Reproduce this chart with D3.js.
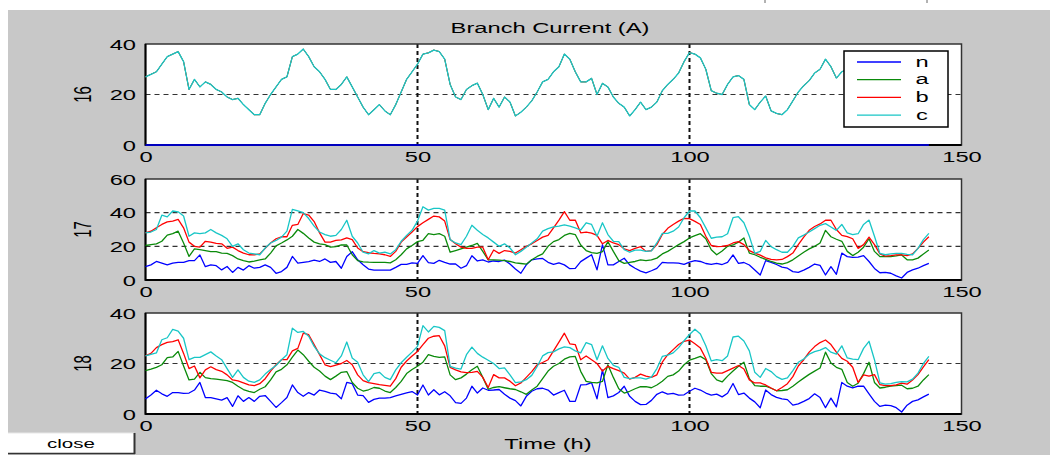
<!DOCTYPE html>
<html><head><meta charset="utf-8">
<script src="https://cdn.jsdelivr.net/npm/d3@7"></script>
<style>
body{margin:0;background:#fff}
svg{display:block}
text{font-family:"Liberation Sans",Arial,sans-serif;fill:#000}
</style>
</head><body>
<svg id="chart" width="1050" height="455"></svg>
<script>
// ---------- data ----------
const hours = d3.range(0, 145);           // time axis, 0..144 h
const xTicks = [0, 50, 100, 150];
const title = "Branch Current (A)";
const xLabel = "Time (h)";
const phaseNames = ["n", "a", "b", "c"];
const phaseColors = ["#0000ff", "#0a8a0a", "#ff0000", "#18c6c6"];
const branchLabels = ["16", "17", "18"];
const yMaxes = [40, 60, 40];
const yTicks16 = [0, 20, 40];
const yTicks17 = [0, 20, 40, 60];
const yTicks18 = [0, 20, 40];

// Branch 16: neutral current is zero, phases a/b/c coincide
const p16n = [0,0,0,0,0,0,0,0,0,0, 0,0,0,0,0,0,0,0,0,0, 0,0,0,0,0,0,0,0,0,0, 0,0,0,0,0,0,0,0,0,0,
  0,0,0,0,0,0,0,0,0,0, 0,0,0,0,0,0,0,0,0,0, 0,0,0,0,0,0,0,0,0,0, 0,0,0,0,0,0,0,0,0,0,
  0,0,0,0,0,0,0,0,0,0, 0,0,0,0,0,0,0,0,0,0, 0,0,0,0,0,0,0,0,0,0, 0,0,0,0,0,0,0,0,0,0,
  0,0,0,0,0,0,0,0,0,0, 0,0,0,0,0,0,0,0,0,0, 0,0,0,0,0];
const p16abc = [27,28,29,32,35,36,37,33,22,26, 23,25,24,22,21,19,18,18.5,16,14,
  12,12,16.5,20,23,26,27,35,36,38, 35,31,29,26,22,22,24,27,23,19,
  15,12,14,16,13.5,12,16,21,26,29, 32,36,36.5,37.6,37,34,24,19,18,22,
  23.5,24.5,20,14,18.5,15,19,17,11.5,13, 15,17.5,21,25,26,29,31,36,34,29,
  25,25,26.4,20,24.4,23,19,16.5,15,11.5, 14,17,14,15,17,21.5,24,26,28.5,33,
  36.6,36,34.5,30,21.5,20.5,20,24,27,27.5, 26,16,14,17,19.4,13.5,12.5,12,14,17.5,
  21,23.5,25.5,28.5,30,34,31,26.5,29,30, 32,30,28,27,25,26,24,22,20,21, 19,20,18,19,20];

// Branch 17
const p17n = [8,9,11,10,9,10,10.5,10.5,11.5,11.5, 14.9,7.9,9,8.5,6,8,4.5,7.5,5.9,8.5,
  7,7.5,9,7.5,4,5,7.5,14,10,10.5, 10.9,11.8,11,12.5,10.5,11,7,14,16.8,12,
  9,6.5,5.9,5.9,5.9,5.9,7.5,9.3,9.3,10.2, 9.9,14.5,10.3,9.9,11.7,10.5,9.5,9.5,7,8.5,
  14.4,11.3,11.9,10.7,11.3,11,11.8,9.5,6.5,4, 9,12,12.5,12.8,10.5,9.3,10.2,9,6.7,6.9,
  10.9,13,15,6,21,9,9,11,12.9,9, 7,5.3,4.2,5.5,6.9,10.5,10.2,10.2,10,9.3,
  10.6,11.5,11,9.8,9.3,9.9,9.2,10.5,14.9,9.9, 10.4,8.9,6,3,11.5,10.5,9.2,7.7,7,5,
  4.5,5.9,7.5,9.5,8.7,3,7.9,3.4,16,13.9, 13.5,13.6,14.5,11,6.9,4.3,4.5,4,2.5,1.2, 4.5,6,7,8.5,9.9];
const p17a = [20.5,21,21.5,23,26.7,27.5,29,22,14,18.5, 18,17.5,16.8,16.8,16,15.8,14.5,12.5,11.5,10.7,
  11.2,11.9,12.5,16,20.3,22,23.8,26,30,27.7, 25,22.5,21.5,21,19.5,19.8,20.8,20.8,15,11.5,
  10.8,10.6,10.5,10.5,10.5,10.2,12,15,18.5,20.5, 22.8,23.6,27.5,27,27.5,26,16.5,17.5,18.5,19.5,
  20.5,21.8,17,12,11.9,11.8,11.5,11,10.2,9.8, 9.4,12,14,15.5,20,22.8,24,26.5,27.7,27,
  20.8,17.5,16.3,15.8,16.8,22.8,17,11.5,9.9,10.5, 11,11.9,11.5,12,13,15.5,17,19,21,22.8,
  25,26.3,27.5,24.5,18,15,17.2,20,20.8,22.5, 25,16,15,13.5,12.3,11,10,9.5,10.3,12,
  14.3,16.5,18.5,20,22,29.5,25.7,24.2,23,17, 14.5,16.5,19.5,24.5,17,13.9,13.9,13.9,14.3,14.9, 12,11.9,13,15.5,17.8];
const p17b = [28,29,31,33,34.5,35,36,31,22.5,20, 19.5,23,22.5,21.8,21.5,18.8,19.5,17.5,16,15,
  14.9,15.5,18.8,22,24.5,25.7,25.7,32.5,33,39.5, 38.6,34.7,28,22.5,22.5,23.5,23.8,25,24,19,
  16.8,16.2,15.8,15.5,15,14,17,22.5,25.5,28.5, 31.7,34,36,38,37.5,35,24,21.5,19.5,18.8,
  18.8,19.5,19.5,12,17.8,15.8,17.5,17,16,18, 20,21.5,23.5,25.5,26.5,31,35.6,40.6,35.5,35.6,
  28,28.5,27.8,26.5,21.5,23.5,22,21,18.5,17.5, 18.8,19.8,17,17.5,21,27,30.7,33,35,36.6,
  36.5,34.8,33,26,20.5,19.8,20,20.5,22,22.8, 21,17.5,16,14.8,13.2,12.3,11.9,12.2,13.9,16,
  21,25.5,29.5,31.8,33.3,35.5,35.5,30,26.5,25.8, 24.5,18.8,21,25.5,21,15.5,14.2,14.5,14.9,14.9, 14.5,15.5,18.8,22.5,25.7];
const p17c = [28,28.5,30,38.5,37.5,41,40.5,38,26,28, 27.5,28,30,28,26.5,24.5,20,21.5,18,16,
  15.5,15,19,22,23.5,25.5,29,42,41,40, 36.5,32,28.5,27,26,26.5,30,35.5,26,22,
  16.5,15.5,17.5,16,16.5,15.5,18,23,26.5,29.5, 35,43.5,41.5,42.5,42.5,41.5,24,22,21,26,
  32.5,29.5,27,25,22.5,20,21.5,19,15,17, 19.5,22,24.5,29,30.5,31.5,32,32.7,32,31,
  29.7,34,33,26,34,27,23,22.8,18,16.5, 17.8,17.8,17,17.3,22,27.7,27.7,29,31.5,37,
  41,41,37,31,24.8,25.5,25.7,27.5,37,37.6, 34,26,15.8,17,23.5,19.8,18,16.5,16.5,20,
  25,26.7,28.5,30.5,32.5,33.5,31.5,29.5,33,28, 27,27.5,33,35.6,26,15.8,15,15.5,15.8,15.8, 15.2,15,18.8,24,27.7];

// Branch 18
const p18n = [6,7.5,9.4,8,7,8.5,8.5,8.2,8.3,9.5, 12.5,6.5,6.5,6,5.5,6.5,3,7.2,5,6.5,
  5,7,7.3,5,2.6,4.5,6.5,11.5,8.5,7, 8.5,7.5,9.5,9,8.3,8,6,12.5,12,7.5,
  7.3,4.6,5.8,6.3,6.3,6.5,7.2,7.8,8.4,8.9, 7.5,11.5,7.5,9.6,7.6,8.8,7.2,4.5,4.2,6.3,
  11,8.3,10.3,9.4,9.5,9.7,7.8,6.3,5.3,3.2, 7,9,10,10.2,9.5,7.5,8.5,9.4,5,5,
  11.5,11.6,12.4,6,17.5,6.5,7.2,8.5,11,7, 5,3.7,3.8,5.4,7.8,8.8,7.9,8.2,7.5,7.6,
  9,10.2,9.5,8.3,7.5,7.9,6.8,8.2,12.1,7.7, 8.3,6.3,4.8,2.5,9.5,7.7,6.6,6,5.7,3.5,
  4,5,6.1,8,6.5,2.5,6.3,2.8,12.5,11, 10.3,11,11,8,5,3,3.5,3.3,2.5,0.8, 3.5,5,5.6,6.8,7.9];
const p18a = [17.2,17.8,18.5,19.5,22.3,22.6,24.8,19,13.5,13.8, 16.5,14.4,14,13.8,13.5,13.2,12.5,11,9.7,9,
  8.5,9.8,10.8,13.5,16.7,17.7,19.5,22.5,25.3,23.5, 20.9,18.5,17,15,13.6,15,16.5,16.8,12.5,10.2,
  9.1,9.6,10.5,10.2,9.1,8.5,10.5,12.9,16,17.6, 18.9,20.5,23.5,22.8,22.4,22.6,15.5,13.6,14.3,15.8,
  17.5,18.9,14.5,9.8,10.5,10.8,10.4,10,9.7,8.8, 7.8,9.5,11,14,17,18.9,20,21.7,22.6,22.8,
  16.9,12.9,12.5,12.3,12.9,19.5,14.5,10,8.3,9, 10,10.8,10.8,10.4,11.5,13,14.9,15.5,17,19.5,
  21.3,22,22.8,21.5,16,13.5,12.7,15,17,18.9, 20.5,14,11.2,11,11,10.2,9.2,9.3,9.6,11,
  12.7,14.2,15.7,17,18.2,24.5,20.2,18.5,17.7,12.5, 11,12.2,16,20.5,12.5,10.3,10.6,11,11.2,11.4, 10,10.2,11,13.5,15.6];
const p18b = [23,24,26.3,27.5,28.4,28.7,29.4,24,18,19, 14.3,17.5,18.7,17.6,16.9,15.5,13.5,13.1,12.3,11.5,
  11.2,12,14,17,19.5,21.5,21.5,25,26,32, 31.4,27.5,23.5,19.5,18.8,19.4,20,21.2,19.5,15.5,
  13.2,12.4,12,11.6,11.3,11,14,18.5,21,23, 24.8,27.5,30,30.8,31,27,18.5,17.5,16.7,16.4,
  16.5,16.9,14.5,10.5,15.6,14.3,14.3,13,11.2,12.3, 14.5,16.8,19.5,20.4,21.5,25,28.5,32,27.8,27.5,
  21.5,23,21.5,20,17,18.9,18,17.2,16.2,13.8, 14.5,15.8,15,14.5,15.5,20.5,23.5,25.5,27.5,28.8,
  29.3,27.8,26.1,22,16.5,16.2,16.2,17.2,18.2,19.2, 17.8,13.5,12.3,12.3,11.5,10.3,9.2,10.5,12,14.8,
  19,21.5,24.5,26.7,28.3,29.3,27.5,24.5,22,20.9, 18.5,12.5,15.5,15,15.6,11.6,11.2,11.2,11.5,12.2, 11.8,13.5,15.6,18.7,21.5];
const p18c = [23,23.6,24.2,29.4,30.2,33.5,32.8,30,21.5,22.4, 22.4,23.5,24.6,23,21.5,18,14.5,17.5,14.5,13,
  12.5,13.5,15.8,17.6,19.2,21.5,23.5,34,32.3,32.7, 30.8,26.8,23.8,22.3,21.3,20.3,23,28.5,22.2,20.5,
  15.5,12.8,16,16.5,14.5,13.6,17.5,20.3,22.5,24.5, 26.8,35,32.5,34.7,34.3,33,18.9,18.2,17.8,23.5,
  26.5,24,22.5,21.3,20,18,18.3,15.5,12.4,12.7, 13.6,15.3,18.8,23,24.3,24.6,25.8,26.6,26.3,25,
  24.2,28.3,27.5,21.5,27,22,19.3,18.5,14.5,14, 14.3,14.3,13.8,14.6,18,22.8,23.3,24.2,26.3,29,
  31.5,33.6,31.7,27,21,21.5,21.1,23,30.5,30.8, 28.9,25,16.5,14.5,18,16.8,14.8,13.7,14.3,17.2,
  20.5,21.8,23.7,24.7,25.3,26.3,24.5,23.7,27,22.2, 21.7,21.5,26,28.8,21.5,12.3,11.8,12,12.5,12.8, 12.7,13.8,16.2,20,22.8];

// ---------- layout ----------
const SX = 1.58;                 // horizontal text stretch of the original screenshot
const svg = d3.select("#chart");
const plotL = 145.5, plotR = 961.5;
const panelBoxes = [[44, 145], [179, 280], [313, 414]];
const panelSeries = [
  [p16n, p16abc, p16abc, p16abc],
  [p17n, p17a, p17b, p17c],
  [p18n, p18a, p18b, p18c]
];
const panelYTicks = [yTicks16, yTicks17, yTicks18];

svg.append("rect").attr("x", 0).attr("y", 0).attr("width", 1050).attr("height", 455).attr("fill", "#fff");
svg.append("rect").attr("x", 8).attr("y", 10).attr("width", 1042).attr("height", 445).attr("fill", "#c8c8c8");
// remnants of the page above the figure
[765, 927].forEach(px => svg.append("line").attr("x1", px).attr("x2", px).attr("y1", 0).attr("y2", 3)
  .attr("stroke", "#666").attr("stroke-width", 1));

const x = d3.scaleLinear().domain([0, 150]).range([plotL, plotR]);

panelBoxes.forEach(([top, bottom], pi) => {
  const y = d3.scaleLinear().domain([0, yMaxes[pi]]).range([bottom, top]);
  const g = svg.append("g");
  g.append("rect").attr("x", plotL).attr("y", top).attr("width", plotR - plotL).attr("height", bottom - top)
    .attr("fill", "#fff");

  // grid
  panelYTicks[pi].filter(v => v > 0 && v < yMaxes[pi]).forEach(v => {
    g.append("line").attr("x1", plotL).attr("x2", plotR).attr("y1", y(v)).attr("y2", y(v))
      .attr("stroke", "#333").attr("stroke-width", 1.2).attr("stroke-dasharray", "5,4");
  });
  [50, 100].forEach(v => {
    g.append("line").attr("x1", x(v)).attr("x2", x(v)).attr("y1", top).attr("y2", bottom)
      .attr("stroke", "#111").attr("stroke-width", 2).attr("stroke-dasharray", "4,3");
  });

  // frame
  g.append("rect").attr("x", plotL).attr("y", top).attr("width", plotR - plotL).attr("height", bottom - top)
    .attr("fill", "none").attr("stroke", "#333").attr("stroke-width", 1.5);
  g.append("line").attr("x1", plotL).attr("x2", plotL).attr("y1", top).attr("y2", bottom + 0.75)
    .attr("stroke", "#000").attr("stroke-width", 2);
  g.append("line").attr("x1", plotL).attr("x2", plotR).attr("y1", bottom).attr("y2", bottom)
    .attr("stroke", "#000").attr("stroke-width", 2);

  // series
  const line = d3.line().x((d, i) => x(hours[i])).y(d => y(d));
  panelSeries[pi].forEach((arr, si) => {
    const w = (pi === 0 && (si === 1 || si === 2)) ? 0.8 : 1.3;
    g.append("path").datum(arr).attr("d", line).attr("fill", "none")
      .attr("stroke", phaseColors[si]).attr("stroke-width", w).attr("stroke-linejoin", "round");
  });

  // axes
  const ya = g.append("g").attr("transform", `translate(${plotL},0)`)
    .call(d3.axisLeft(y).tickValues(panelYTicks[pi]).tickSize(0).tickPadding(0));
  ya.select(".domain").remove();
  ya.selectAll("text").attr("x", -9.5 / SX).attr("dy", null).attr("y", 5.3)
    .attr("transform", `scale(${SX},1)`).attr("font-size", 15).attr("fill", "#000");
  ya.attr("font-family", "Liberation Sans, Arial, sans-serif").attr("font-size", 15);

  const xa = g.append("g").attr("transform", `translate(0,${bottom})`)
    .call(d3.axisBottom(x).tickValues(xTicks).tickSize(0).tickPadding(0));
  xa.select(".domain").remove();
  xa.selectAll("text").attr("y", 17).attr("dy", null)
    .attr("transform", `scale(${SX},1)`).attr("font-size", 15).attr("fill", "#000");
  xa.attr("font-family", "Liberation Sans, Arial, sans-serif").attr("font-size", 15);

  // branch label
  g.append("text").attr("transform", `translate(82,${(top + bottom) / 2}) scale(${SX},1) rotate(-90)`)
    .attr("text-anchor", "middle").attr("dy", "0.36em").attr("font-size", 15).text(branchLabels[pi]);

  // legend on the first panel
  if (pi === 0) {
    const lg = g.append("g");
    lg.append("rect").attr("x", 844).attr("y", 51).attr("width", 104).attr("height", 76)
      .attr("fill", "#fff").attr("stroke", "#000").attr("stroke-width", 1.5);
    phaseNames.forEach((nm, i) => {
      const ry = 62 + i * 17.7;
      lg.append("line").attr("x1", 857).attr("x2", 901).attr("y1", ry).attr("y2", ry)
        .attr("stroke", phaseColors[i]).attr("stroke-width", 1.3);
      lg.append("text").attr("transform", `translate(922,${ry + 4.5}) scale(${SX},1)`)
        .attr("text-anchor", "middle").attr("font-size", 15).text(nm);
    });
  }
});

// title and x label
svg.append("text").attr("transform", `translate(550,33) scale(${SX},1)`).attr("text-anchor", "middle")
  .attr("font-size", 15).text(title);
svg.append("text").attr("transform", `translate(548,449) scale(${SX},1)`).attr("text-anchor", "middle")
  .attr("font-size", 15).text(xLabel);

// close button
const btn = svg.append("g");
btn.append("rect").attr("x", 8).attr("y", 433).attr("width", 126).attr("height", 20).attr("fill", "#fff");
btn.append("line").attr("x1", 8).attr("x2", 134).attr("y1", 433).attr("y2", 433).attr("stroke", "#e8e8e8");
btn.append("line").attr("x1", 134.5).attr("x2", 134.5).attr("y1", 433).attr("y2", 454).attr("stroke", "#333").attr("stroke-width", 2);
btn.append("line").attr("x1", 8).attr("x2", 135).attr("y1", 453.5).attr("y2", 453.5).attr("stroke", "#333").attr("stroke-width", 1.5);
btn.append("text").attr("transform", `translate(71,447.5) scale(${SX},1)`).attr("text-anchor", "middle")
  .attr("font-size", 13).text("close");
</script>
</body></html>
